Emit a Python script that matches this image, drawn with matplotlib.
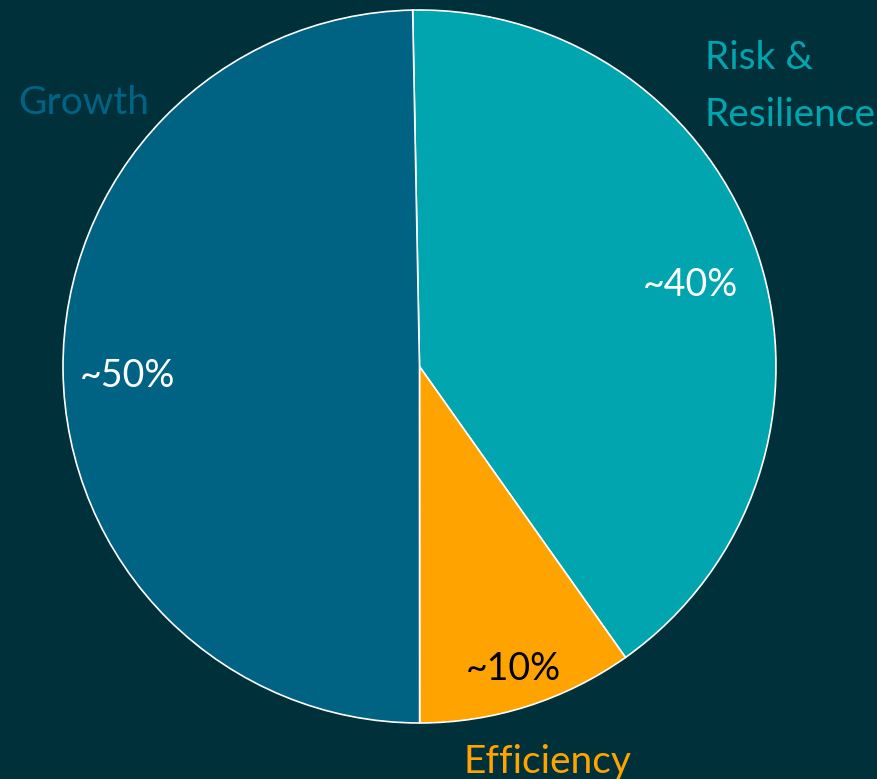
import matplotlib
matplotlib.use("Agg")
import matplotlib.pyplot as plt
import numpy as np

# shares (clockwise from the top)
categories = ["Risk &\nResilience", "Efficiency", "Growth"]
shares = [40.5, 9.8, 49.7]
pct_labels = ["~40%", "~10%", "~50%"]
colors = ["#00A5AF", "#FFA300", "#006384"]
pct_colors = ["white", "black", "white"]
pct_dist = [0.80, 0.87, 0.82]

bg = "#00313A"
plt.rcParams['font.family'] = ['Lato', 'DejaVu Sans']

fig = plt.figure(figsize=(8.77, 7.79), dpi=100)
fig.patch.set_facecolor(bg)
ax = fig.add_axes([0, 0, 1, 1])
ax.set_facecolor(bg)

wedges, texts = ax.pie(shares, colors=colors, startangle=91.1, counterclock=False,
                       radius=1.0, wedgeprops=dict(edgecolor='white', linewidth=1.2))

# percent labels inside the wedges
for w, lab, col, d in zip(wedges, pct_labels, pct_colors, pct_dist):
    ang = np.deg2rad((w.theta1 + w.theta2) / 2)
    ax.text(d * np.cos(ang), d * np.sin(ang) - 0.02, lab, color=col, fontsize=27,
            ha='center', va='center')

# category labels outside
ax.text(-1.127, 0.74, categories[2], color=colors[2], fontsize=28, ha='left', va='center')
ax.text(0.80, 0.785, categories[0], color=colors[0], fontsize=28, ha='left', va='center',
        linespacing=1.72)
ax.text(0.36, -1.11, categories[1], color=colors[1], fontsize=28, ha='center', va='center')

ax.set_xlim(-1.1767, 1.2833)
ax.set_ylim(-1.1571, 1.0281)
ax.axis('off')

fig.savefig("out.png", dpi=100, facecolor=bg)
